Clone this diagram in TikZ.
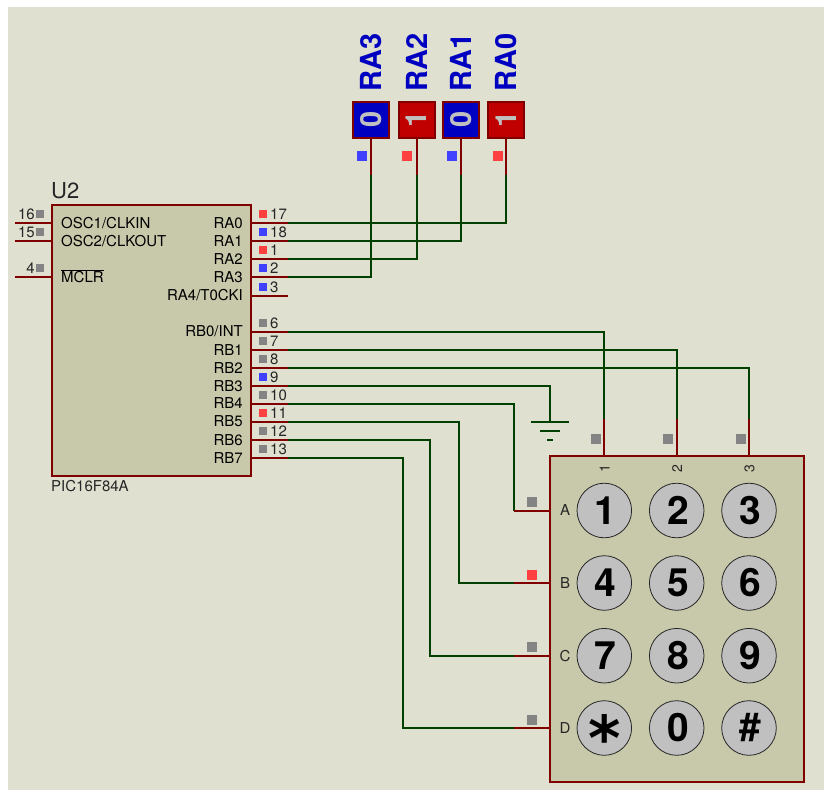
\documentclass[tikz,border=0pt]{standalone}
\usepackage{fontspec}
\setmainfont{TeX Gyre Heros}
\newfontfamily\symfont{DejaVu Sans}
\definecolor{sheet}{HTML}{DFE0D0}
\definecolor{body}{HTML}{C8C8AA}
\definecolor{pinred}{HTML}{800000}
\definecolor{wiregreen}{HTML}{004000}
\definecolor{ledred}{HTML}{FF4040}
\definecolor{ledblue}{HTML}{4040FF}
\definecolor{ledgray}{HTML}{848484}
\definecolor{keygray}{HTML}{C0C0C0}
\definecolor{lowblue}{HTML}{0000C0}
\definecolor{highred}{HTML}{C00000}
\tikzstyle{chip} = [rectangle, draw=pinred, fill=body, line width=2.4pt, inner sep=0pt]
\tikzstyle{pin} = [draw=pinred, line width=2pt]
\tikzstyle{wire} = [draw=wiregreen, line width=2pt]
\tikzstyle{pinname} = [font=\fontsize{15}{15}\selectfont, inner sep=0pt, text height=10.7pt, text depth=0pt]
\tikzstyle{pinnum} = [pinname, text=black!85]
\tikzstyle{dot} = [rectangle, inner sep=0pt, minimum size=8pt]
\tikzstyle{bigdot} = [rectangle, inner sep=0pt, minimum size=10pt]
\tikzstyle{toggle} = [rectangle, draw=pinred, line width=2pt, minimum size=36pt, inner sep=0pt, text=keygray, font=\fontsize{29}{29}\selectfont\bfseries]
\tikzstyle{probe} = [rotate=90, anchor=west, inner sep=0pt, text depth=0pt, text=lowblue, font=\fontsize{29}{29}\selectfont\bfseries]
\tikzstyle{key} = [circle, draw=black!85, fill=keygray, line width=0.8pt, minimum size=54.6pt, inner sep=0pt, font=\fontsize{39}{39}\selectfont\bfseries, execute at begin node={\kern2.5pt}]

\begin{document}
\begin{tikzpicture}[x=1pt, y=-1pt]
        \useasboundingbox (0,0) rectangle (824,790);
        \path [fill=sheet] (8,7) rectangle (824,790);
        % Place nodes
        \node [chip, minimum width=199pt, minimum height=271pt] (U2) at (151.5,340.5) {};
        \node [chip, minimum width=253.5pt, minimum height=326pt] (K) at (677,619) {};
        \node [toggle, fill=lowblue] (T3) at (371,119.5) {\rotatebox{90}{0}};
        \node [toggle, fill=highred] (T2) at (416.5,119.5) {\rotatebox{90}{1}};
        \node [toggle, fill=lowblue] (T1) at (461,119.5) {\rotatebox{90}{0}};
        \node [toggle, fill=highred] (T0) at (506,119.5) {\rotatebox{90}{1}};
        \node [probe] (L3) at (371,92) {RA3};
        \node [probe] (L2) at (416.5,92) {RA2};
        \node [probe] (L1) at (461,92) {RA1};
        \node [probe] (L0) at (506,92) {RA0};
        \node [bigdot, fill=ledblue] (D3) at (362,156) {};
        \node [bigdot, fill=ledred] (D2) at (407,156) {};
        \node [bigdot, fill=ledblue] (D1) at (452,156) {};
        \node [bigdot, fill=ledred] (D0) at (498,156) {};
        \node [anchor=west, inner sep=0pt, text=black!85, font=\fontsize{22}{22}\selectfont] (N) at (51,191) {U2};
        \node [pinname, anchor=west, text=black!85] (M) at (51,486) {PIC16F84A};
        % Chip pin names
        \node [pinname, anchor=west] (OSC1) at (61,223) {OSC1/CLKIN};
        \node [pinname, anchor=west] (OSC2) at (61,241) {OSC2/CLKOUT};
        \node [pinname, anchor=west] (MCLR) at (61,277) {$\overline{\mbox{MCLR}}$};
        \node [pinname, anchor=east] (RA0) at (243,223) {RA0};
        \node [pinname, anchor=east] (RA1) at (243,241) {RA1};
        \node [pinname, anchor=east] (RA2) at (243,259) {RA2};
        \node [pinname, anchor=east] (RA3) at (243,277) {RA3};
        \node [pinname, anchor=east] (RA4) at (243,295.5) {RA4/T0CKI};
        \node [pinname, anchor=east] (RB0) at (243,331.5) {RB0/INT};
        \node [pinname, anchor=east] (RB1) at (243,350) {RB1};
        \node [pinname, anchor=east] (RB2) at (243,368) {RB2};
        \node [pinname, anchor=east] (RB3) at (243,386) {RB3};
        \node [pinname, anchor=east] (RB4) at (243,403.5) {RB4};
        \node [pinname, anchor=east] (RB5) at (243,421.5) {RB5};
        \node [pinname, anchor=east] (RB6) at (243,440) {RB6};
        \node [pinname, anchor=east] (RB7) at (243,458) {RB7};
        % Chip pin numbers and state dots
        \node [pinnum, anchor=east] (n16) at (35,214) {16};
        \node [pinnum, anchor=east] (n15) at (35,232) {15};
        \node [pinnum, anchor=east] (n4) at (35,268) {4};
        \node [dot, fill=ledgray] (d16) at (40,214) {};
        \node [dot, fill=ledgray] (d15) at (40,232) {};
        \node [dot, fill=ledgray] (d4) at (40,268) {};
        \node [pinnum, anchor=west] (n17) at (270,214) {17};
        \node [pinnum, anchor=west] (n18) at (270,232) {18};
        \node [pinnum, anchor=west] (n1) at (270,250) {1};
        \node [pinnum, anchor=west] (n2) at (270,268) {2};
        \node [pinnum, anchor=west] (n3) at (270,287) {3};
        \node [pinnum, anchor=west] (n6) at (270,323) {6};
        \node [pinnum, anchor=west] (n7) at (270,341) {7};
        \node [pinnum, anchor=west] (n8) at (270,359) {8};
        \node [pinnum, anchor=west] (n9) at (270,377) {9};
        \node [pinnum, anchor=west] (n10) at (270,395) {10};
        \node [pinnum, anchor=west] (n11) at (270,413) {11};
        \node [pinnum, anchor=west] (n12) at (270,431) {12};
        \node [pinnum, anchor=west] (n13) at (270,449) {13};
        \node [dot, fill=ledred] (d17) at (263,214) {};
        \node [dot, fill=ledblue] (d18) at (263,232) {};
        \node [dot, fill=ledred] (d1) at (263,250) {};
        \node [dot, fill=ledblue] (d2) at (263,268) {};
        \node [dot, fill=ledblue] (d3) at (263,287) {};
        \node [dot, fill=ledgray] (d6) at (263,323) {};
        \node [dot, fill=ledgray] (d7) at (263,341) {};
        \node [dot, fill=ledgray] (d8) at (263,359) {};
        \node [dot, fill=ledblue] (d9) at (263,377) {};
        \node [dot, fill=ledgray] (d10) at (263,395) {};
        \node [dot, fill=ledred] (d11) at (263,413) {};
        \node [dot, fill=ledgray] (d12) at (263,431) {};
        \node [dot, fill=ledgray] (d13) at (263,449) {};
        % Keypad
        \node [key] (k1) at (604.3,510.5) {1};
        \node [key] (k2) at (676.7,510.5) {2};
        \node [key] (k3) at (749,510.5) {3};
        \node [key] (k4) at (604.3,583) {4};
        \node [key] (k5) at (676.7,583) {5};
        \node [key] (k6) at (749,583) {6};
        \node [key] (k7) at (604.3,655.7) {7};
        \node [key] (k8) at (676.7,655.7) {8};
        \node [key] (k9) at (749,655.7) {9};
        \node [key, font=\fontsize{62}{62}\symfont\bfseries] (kS) at (604.3,728) {\kern-2.5pt\raisebox{-32pt}[0pt][0pt]{*}};
        \node [key] (k0) at (676.7,728) {0};
        \node [key] (kH) at (749,728) {\#};
        \node [pinnum, font=\fontsize{14}{14}\selectfont, rotate=90] (c1) at (604.3,469) {1};
        \node [pinnum, font=\fontsize{14}{14}\selectfont, rotate=90] (c2) at (676.7,469) {2};
        \node [pinnum, font=\fontsize{14}{14}\selectfont, rotate=90] (c3) at (749,469) {3};
        \node [pinnum] (rA) at (565,510.5) {A};
        \node [pinnum] (rB) at (565,583) {B};
        \node [pinnum] (rC) at (565,655.7) {C};
        \node [pinnum] (rD) at (565,728) {D};
        \node [bigdot, fill=ledgray] (e1) at (596,439) {};
        \node [bigdot, fill=ledgray] (e2) at (668,439) {};
        \node [bigdot, fill=ledgray] (e3) at (741,439) {};
        \node [bigdot, fill=ledgray] (eA) at (532,502) {};
        \node [bigdot, fill=ledred] (eB) at (532,575) {};
        \node [bigdot, fill=ledgray] (eC) at (532,647) {};
        \node [bigdot, fill=ledgray] (eD) at (532,720) {};
        % Pin ends
        \coordinate (p16) at (15,223);
        \coordinate (p15) at (15,241);
        \coordinate (p4) at (15,277);
        \coordinate (p17) at (288,223);
        \coordinate (p18) at (288,241);
        \coordinate (p1) at (288,259);
        \coordinate (p2) at (288,277);
        \coordinate (p3) at (288,295.5);
        \coordinate (p6) at (288,331.5);
        \coordinate (p7) at (288,350);
        \coordinate (p8) at (288,368);
        \coordinate (p9) at (288,386);
        \coordinate (p10) at (288,403.5);
        \coordinate (p11) at (288,421.5);
        \coordinate (p12) at (288,440);
        \coordinate (p13) at (288,458);
        \coordinate (t3) at (371,175);
        \coordinate (t2) at (416.5,175);
        \coordinate (t1) at (461,175);
        \coordinate (t0) at (506,175);
        \coordinate (q1) at (604.3,419);
        \coordinate (q2) at (676.7,419);
        \coordinate (q3) at (749,419);
        \coordinate (qA) at (514,510.5);
        \coordinate (qB) at (514,583);
        \coordinate (qC) at (514,655.7);
        \coordinate (qD) at (514,728);
        \coordinate (bB) at (459,583);
        \coordinate (bC) at (430,655.7);
        \coordinate (bD) at (403,728);
        \coordinate (G) at (550,422);
        % Draw edges
        \path [wire] (p17) -| (t0);
        \path [wire] (p18) -| (t1);
        \path [wire] (p1) -| (t2);
        \path [wire] (p2) -| (t3);
        \path [wire] (p6) -| (q1);
        \path [wire] (p7) -| (q2);
        \path [wire] (p8) -| (q3);
        \path [wire] (p9) -| (G);
        \path [wire] (p10) -| (qA);
        \path [wire] (p11) -| (bB) -- (qB);
        \path [wire] (p12) -| (bC) -- (qC);
        \path [wire] (p13) -| (bD) -- (qD);
        \path [pin] (p16) -- (p16 -| U2.west);
        \path [pin] (p15) -- (p15 -| U2.west);
        \path [pin] (p4) -- (p4 -| U2.west);
        \path [pin] (p17) -- (p17 -| U2.east);
        \path [pin] (p18) -- (p18 -| U2.east);
        \path [pin] (p1) -- (p1 -| U2.east);
        \path [pin] (p2) -- (p2 -| U2.east);
        \path [pin] (p3) -- (p3 -| U2.east);
        \path [pin] (p6) -- (p6 -| U2.east);
        \path [pin] (p7) -- (p7 -| U2.east);
        \path [pin] (p8) -- (p8 -| U2.east);
        \path [pin] (p9) -- (p9 -| U2.east);
        \path [pin] (p10) -- (p10 -| U2.east);
        \path [pin] (p11) -- (p11 -| U2.east);
        \path [pin] (p12) -- (p12 -| U2.east);
        \path [pin] (p13) -- (p13 -| U2.east);
        \path [pin] (T3.south) -- (t3);
        \path [pin] (T2.south) -- (t2);
        \path [pin] (T1.south) -- (t1);
        \path [pin] (T0.south) -- (t0);
        \path [pin] (q1) -- (q1 |- K.north);
        \path [pin] (q2) -- (q2 |- K.north);
        \path [pin] (q3) -- (q3 |- K.north);
        \path [pin] (qA) -- (qA -| K.west);
        \path [pin] (qB) -- (qB -| K.west);
        \path [pin] (qC) -- (qC -| K.west);
        \path [pin] (qD) -- (qD -| K.west);
        % Ground symbol
        \path [wire] ([xshift=-19pt]G) -- ([xshift=19pt]G);
        \path [wire] ([xshift=-10pt,yshift=-9pt]G) -- ([xshift=10pt,yshift=-9pt]G);
        \path [wire] ([xshift=-3pt,yshift=-18pt]G) -- ([xshift=3pt,yshift=-18pt]G);
    \end{tikzpicture}
\end{document}
